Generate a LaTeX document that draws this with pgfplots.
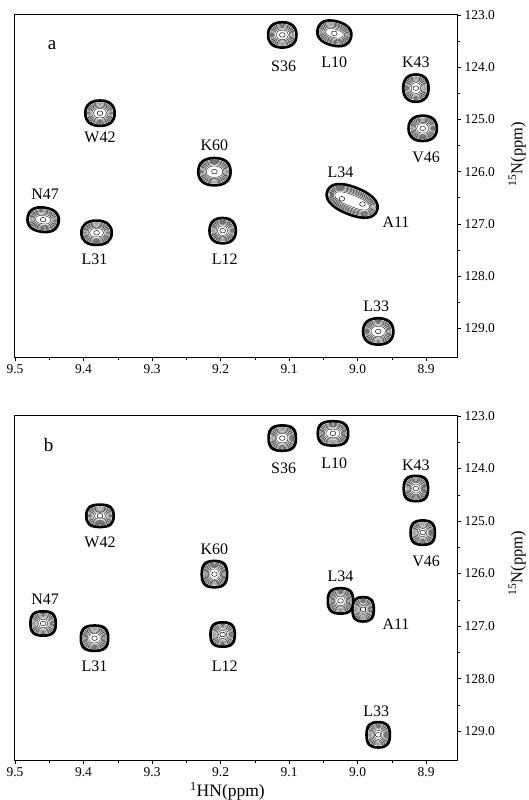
\documentclass[border=0pt]{standalone}
\usepackage{pgfplots}
\usepackage{pgfplotstable}
\pgfplotsset{compat=1.18}
\usepackage{fontspec}
\setmainfont{Liberation Serif}

% rounded contour path: #1 rx, #2 ry (numbers, pt), #3 kappa
\newcommand\pkpath[3]{%
 \pgfpathmoveto{\pgfpoint{#1pt}{0pt}}%
 \pgfpathcurveto{\pgfpoint{#1pt}{#3*#2pt}}{\pgfpoint{#3*#1pt}{#2pt}}{\pgfpoint{0pt}{#2pt}}%
 \pgfpathcurveto{\pgfpoint{-#3*#1pt}{#2pt}}{\pgfpoint{-#1pt}{#3*#2pt}}{\pgfpoint{-#1pt}{0pt}}%
 \pgfpathcurveto{\pgfpoint{-#1pt}{-#3*#2pt}}{\pgfpoint{-#3*#1pt}{-#2pt}}{\pgfpoint{0pt}{-#2pt}}%
 \pgfpathcurveto{\pgfpoint{#3*#1pt}{-#2pt}}{\pgfpoint{#1pt}{-#3*#2pt}}{\pgfpoint{#1pt}{0pt}}%
 \pgfpathclose}
\def\kap{0.64}
\pgfdeclareplotmark{pkA}{%
 \pgfmathsetmacro\rx{\pkw/2}\pgfmathsetmacro\ry{\pkh/2}%
 \pgftransformrotate{\pkr}%
 \pkpath{\rx}{\ry}{\kap}\pgfsetfillcolor{black}\pgfusepath{fill}}
\pgfdeclareplotmark{pkB}{%
 \pgfmathsetmacro\rx{\pkw/2-2.8}\pgfmathsetmacro\ry{\pkh/2-2.8}%
 \pgftransformrotate{\pkr}%
 \pkpath{\rx}{\ry}{\kap}\pgfsetfillcolor{white}\pgfusepath{fill}}
\pgfdeclareplotmark{pkC}{%
 \pgftransformrotate{\pkr}\pgfsetlinewidth{0.45pt}\pgfsetstrokecolor{black!85}%
 \foreach \d in {3.6,4.6,5.6,6.7,7.9,9.3}{%
   \pgfmathsetmacro\rx{max(\pkw/2-\d,1)}\pgfmathsetmacro\ry{max(\pkh/2-\d,1)}%
   \pkpath{\rx}{\ry}{\kap}\pgfusepath{stroke}}}
\pgfdeclareplotmark{pkD}{%
 \pgfsetlinewidth{0.45pt}\pgfsetstrokecolor{black}%
 \pkpath{2.8}{2.3}{0.6}\pgfusepath{stroke}}

% peak outlines: x (1H ppm), y (15N ppm), width, height (pt), rotation
\pgfplotstableread{
x y w h r
9.376 124.88 32 28 0
9.209 126.00 35 30 0
9.459 126.92 34 27 -8
9.381 127.17 33 27 0
9.197 127.13 29 28 0
9.110 123.38 31 28 0
9.034 123.35 37 27 -15
8.915 124.40 28 30 0
8.905 125.17 31 28 0
8.970 129.06 33 29 0
9.008 126.56 56 30 -22
}\peaksA
\pgfplotstableread{
x y
9.376 124.88
9.209 126.00
9.459 126.92
9.381 127.17
9.197 127.13
9.110 123.38
9.034 123.35
8.915 124.40
8.905 125.17
8.970 129.06
9.023 126.52
8.993 126.62
}\centA
\pgfplotstableread{
x y w h r
9.376 124.90 30 25 0
9.209 126.01 28 29 0
9.459 126.95 28 27 0
9.384 127.23 30 28 0
9.197 127.16 27 27 0
9.110 123.42 30 28 0
9.036 123.33 33 27 0
8.915 124.38 27 28 0
8.905 125.22 27 27 0
9.025 126.52 28 28 0
8.992 126.68 24 27 0
8.970 129.07 26 28 0
}\peaksB

\pgfplotsset{
 common/.style={
  scale only axis, anchor=north west, width=443pt,
  xmin=8.855, xmax=9.5015, ymin=122.98, ymax=129.55,
  x dir=reverse, y dir=reverse,
  axis line style={line width=0.8pt},
  xtick={8.9,9.0,9.1,9.2,9.3,9.4,9.5}, ytick={123,124,125,126,127,128,129},
  minor x tick num=1, minor y tick num=1,
  xtick pos=left, ytick pos=right, yticklabel pos=right,
  tick align=outside, major tick length=4pt, minor tick length=3pt,
  tick style={line width=0.6pt, black},
  /pgf/number format/fixed, /pgf/number format/fixed zerofill,
  /pgf/number format/precision=1,
  /pgf/number format/assume math mode=true,
  tick label style={font=\fontsize{13.5}{14}\selectfont},
  clip=false,
 },
 pk/.style={scatter, only marks, mark=#1,
  visualization depends on={\thisrow{w}\as\pkw},
  visualization depends on={\thisrow{h}\as\pkh},
  visualization depends on={\thisrow{r}\as\pkr}},
}
\tikzset{lab/.style={font=\fontsize{16}{16}\selectfont, inner sep=0pt}}

\begin{document}
\begin{tikzpicture}
\path[use as bounding box] (0pt,0pt) rectangle (528pt,-800pt);
\def\kap{0.64}
\begin{axis}[common, at={(14pt,-14pt)}, height=343pt]
\addplot[pk=pkA] table {\peaksA};
\addplot[pk=pkB] table {\peaksA};
\addplot[pk=pkC] table {\peaksA};
\addplot[only marks, mark=pkD] table {\centA};
\node[font=\fontsize{19}{19}\selectfont, inner sep=0pt] at (axis cs:9.446,123.57) {a};
\node[lab] at (axis cs:9.376,125.35) {W42};
\node[lab] at (axis cs:9.209,125.49) {K60};
\node[lab] at (axis cs:9.456,126.44) {N47};
\node[lab] at (axis cs:9.384,127.68) {L31};
\node[lab] at (axis cs:9.194,127.68) {L12};
\node[lab] at (axis cs:9.108,123.99) {S36};
\node[lab] at (axis cs:9.034,123.90) {L10};
\node[lab] at (axis cs:8.915,123.90) {K43};
\node[lab] at (axis cs:8.900,125.72) {V46};
\node[lab] at (axis cs:9.025,126.02) {L34};
\node[lab] at (axis cs:8.944,126.96) {A11};
\node[lab] at (axis cs:8.973,128.58) {L33};
\node[rotate=90, font=\fontsize{16.5}{17}\selectfont, inner sep=0pt] at (axis cs:8.767,125.66) {\textsuperscript{15}N(ppm)};
\end{axis}
\def\kap{0.72}
\begin{axis}[common, at={(14pt,-415pt)}, height=345pt]
\addplot[pk=pkA] table {\peaksB};
\addplot[pk=pkB] table {\peaksB};
\addplot[pk=pkC] table {\peaksB};
\addplot[only marks, mark=pkD] table {\peaksB};
\node[font=\fontsize{19}{19}\selectfont, inner sep=0pt] at (axis cs:9.451,123.56) {b};
\node[lab] at (axis cs:9.376,125.41) {W42};
\node[lab] at (axis cs:9.209,125.53) {K60};
\node[lab] at (axis cs:9.456,126.49) {N47};
\node[lab] at (axis cs:9.384,127.77) {L31};
\node[lab] at (axis cs:9.194,127.77) {L12};
\node[lab] at (axis cs:9.108,124.00) {S36};
\node[lab] at (axis cs:9.034,123.90) {L10};
\node[lab] at (axis cs:8.915,123.94) {K43};
\node[lab] at (axis cs:8.900,125.76) {V46};
\node[lab] at (axis cs:9.025,126.05) {L34};
\node[lab] at (axis cs:8.944,126.97) {A11};
\node[lab] at (axis cs:8.973,128.63) {L33};
\node[rotate=90, font=\fontsize{16.5}{17}\selectfont, inner sep=0pt] at (axis cs:8.767,125.80) {\textsuperscript{15}N(ppm)};
\node[font=\fontsize{17.5}{18}\selectfont, inner sep=0pt] at (axis cs:9.19,130.15) {\textsuperscript{1}HN(ppm)};
\end{axis}
\end{tikzpicture}
\end{document}
